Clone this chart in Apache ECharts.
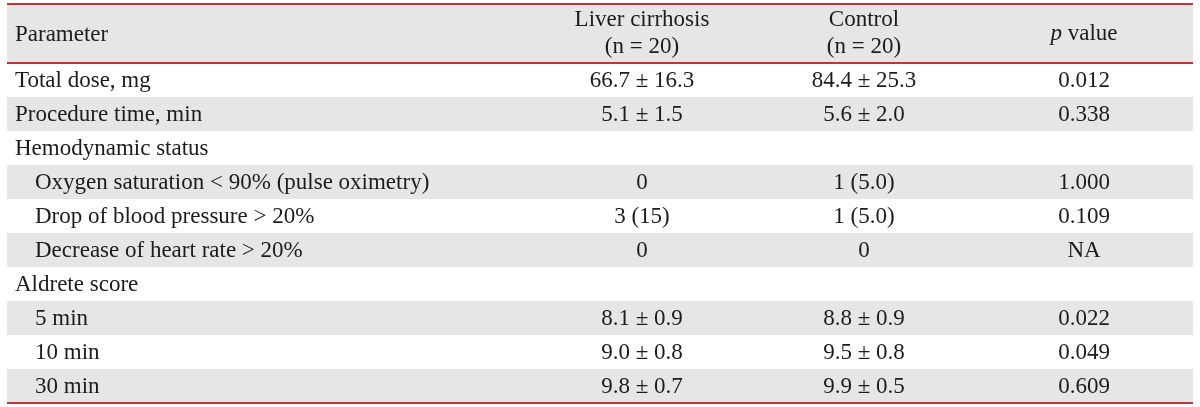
<!DOCTYPE html>
<html>
<head>
<meta charset="utf-8">
<script src="https://cdn.jsdelivr.net/npm/echarts@6/dist/echarts.min.js"></script>
<style>html,body{margin:0;padding:0;background:#fff}#c{width:1200px;height:407px}</style>
</head>
<body>
<div id="c"></div>
<script>
// ---- table content ----
const headers = ['Parameter', 'Liver cirrhosis\n(n = 20)', 'Control\n(n = 20)', '{i|p} value'];
const parameters = ['Total dose, mg', 'Procedure time, min', 'Hemodynamic status',
  'Oxygen saturation < 90% (pulse oximetry)', 'Drop of blood pressure > 20%',
  'Decrease of heart rate > 20%', 'Aldrete score', '5 min', '10 min', '30 min'];
const parameterLevel = [0, 0, 0, 1, 1, 1, 0, 1, 1, 1];
const liverCirrhosis = ['66.7 ± 16.3', '5.1 ± 1.5', '', '0', '3 (15)', '0', '', '8.1 ± 0.9', '9.0 ± 0.8', '9.8 ± 0.7'];
const control = ['84.4 ± 25.3', '5.6 ± 2.0', '', '1 (5.0)', '1 (5.0)', '0', '', '8.8 ± 0.9', '9.5 ± 0.8', '9.9 ± 0.5'];
const pValues = ['0.012', '0.338', '', '1.000', '0.109', 'NA', '', '0.022', '0.049', '0.609'];

// ---- layout / style constants ----
const N = parameters.length;
const HEADER_UNITS = 1.735;
const TOTAL = N + HEADER_UNITS;
const COL_X = [0.00675, 0.5354, 0.7226, 0.9081];
const INDENT_X = 0.0236;
const FONT = '"Liberation Serif", "DejaVu Serif", serif';
const FS = 23;
const TEXT = '#1e1b1c';
const GRAY = '#e6e6e6';
const RED = '#b8363c';

const chart = echarts.init(document.getElementById('c'), null, {renderer: 'canvas'});

function txt(text, x, y, align, extra) {
  return {
    type: 'text', z2: 10,
    style: Object.assign({
      text: text, x: x, y: y, align: align, verticalAlign: 'middle',
      fontFamily: FONT, fontSize: FS, fill: TEXT,
      rich: { i: { fontFamily: FONT, fontSize: FS, fontStyle: 'italic', fill: TEXT } }
    }, extra || {})
  };
}

function renderItem(params, api) {
  const idx = api.value(0);
  let yTop, yBot;
  if (idx < 0) { yTop = TOTAL; yBot = N; } else { yTop = N - idx; yBot = N - idx - 1; }
  const p0 = api.coord([0, yTop]);
  const p1 = api.coord([1, yBot]);
  const h = p1[1] - p0[1];
  const cy = p0[1] + h / 2 + 1;
  const children = [];
  const gray = idx < 0 || idx % 2 === 1;
  if (gray) children.push({ type: 'rect', shape: { x: p0[0], y: p0[1], width: p1[0] - p0[0], height: h }, style: { fill: GRAY } });
  const xAt = f => api.coord([f, 0])[0];
  if (idx < 0) {
    children.push(txt(headers[0], xAt(COL_X[0]), cy, 'left'));
    for (let c = 1; c < 4; c++) children.push(txt(headers[c], xAt(COL_X[c]), cy - 1, 'center', { lineHeight: 27 }));
    children.push({ type: 'line', z2: 20, shape: { x1: p0[0], y1: p0[1], x2: p1[0], y2: p0[1] }, style: { stroke: RED, lineWidth: 2 } });
    children.push({ type: 'line', z2: 20, shape: { x1: p0[0], y1: p1[1], x2: p1[0], y2: p1[1] }, style: { stroke: RED, lineWidth: 2 } });
  } else {
    const lx = parameterLevel[idx] ? INDENT_X : COL_X[0];
    children.push(txt(parameters[idx], xAt(lx), cy, 'left'));
    children.push(txt(liverCirrhosis[idx], xAt(COL_X[1]), cy, 'center'));
    children.push(txt(control[idx], xAt(COL_X[2]), cy, 'center'));
    children.push(txt(pValues[idx], xAt(COL_X[3]), cy, 'center'));
    if (idx === N - 1) children.push({ type: 'line', z2: 20, shape: { x1: p0[0], y1: p1[1], x2: p1[0], y2: p1[1] }, style: { stroke: RED, lineWidth: 2 } });
  }
  return { type: 'group', children: children };
}

const rows = [[-1]].concat(parameters.map((_, i) => [i]));

chart.setOption({
  animation: false,
  grid: { left: 7, right: 7, top: 4, bottom: 4 },
  xAxis: { type: 'value', min: 0, max: 1, show: false },
  yAxis: { type: 'value', min: 0, max: TOTAL, show: false },
  series: [{ type: 'custom', renderItem: renderItem, data: rows, clip: false }]
});
</script>
</body>
</html>
